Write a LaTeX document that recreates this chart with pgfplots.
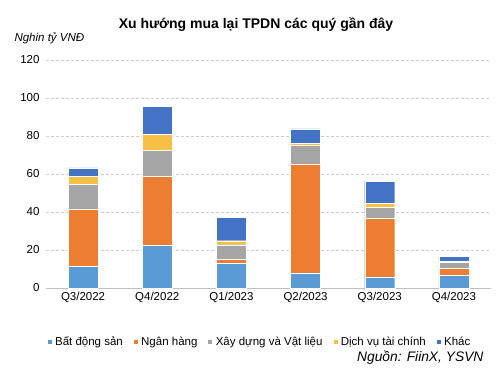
\documentclass[border=0pt]{standalone}
\usepackage{pgfplots}
\pgfplotsset{compat=1.18}
\usepackage{fontspec}
\setmainfont{Liberation Sans}
\definecolor{cBDS}{HTML}{5B9BD5}
\definecolor{cNH}{HTML}{ED7D31}
\definecolor{cXD}{HTML}{A5A5A5}
\definecolor{cDV}{HTML}{F6BF45}
\definecolor{cKH}{HTML}{4472C4}
\begin{document}
\begin{tikzpicture}[x=1pt,y=1pt]
\path[use as bounding box] (0,0) rectangle (498,373);
\begin{axis}[
  at={(46pt,85pt)}, anchor=south west,
  scale only axis, width=445pt, height=228pt,
  ybar stacked, bar width=30pt,
  xmin=-0.5, xmax=5.5, ymin=0, ymax=120,
  ytick={0,20,...,120},
  xtick={0,...,5},
  xticklabels={Q3/2022,Q4/2022,Q1/2023,Q2/2023,Q3/2023,Q4/2023},
  axis line style={draw=none},
  axis x line*=bottom,
  x axis line style={draw=gray!50, line width=0.8pt},
  y axis line style={draw=none},
  major tick length=0pt,
  ymajorgrids, grid style={densely dashed, gray!40, line width=0.5pt},
  tick label style={font=\fontsize{11.5}{13}\selectfont},
  /pgf/number format/assume math mode=true,
  yticklabel style={xshift=-3pt},
  xticklabel style={yshift=-1pt},
  legend columns=5,
  legend style={at={(0.48,-0.237)}, anchor=center, draw=none, fill=none,
    font=\fontsize{11.5}{13}\selectfont, column sep=8pt,
    /tikz/every odd column/.append style={column sep=1pt}},
  legend image code/.code={\fill[#1] (0pt,-2.5pt) rectangle (5pt,2.5pt);},
]
\addplot[fill=cBDS, draw=white, line width=0.3pt] coordinates {(0,11.4) (1,22.6) (2,13.2) (3,7.9) (4,5.8) (5,6.6)};
\addplot[fill=cNH, draw=white, line width=0.3pt] coordinates {(0,30.3) (1,36.1) (2,1.9) (3,57.4) (4,30.8) (5,3.9)};
\addplot[fill=cXD, draw=white, line width=0.3pt] coordinates {(0,12.8) (1,13.9) (2,7.7) (3,9.8) (4,5.7) (5,3.0)};
\addplot[fill=cDV, draw=white, line width=0.3pt] coordinates {(0,4.2) (1,8.4) (2,2.1) (3,1.2) (4,2.2) (5,0.7)};
\addplot[fill=cKH, draw=white, line width=0.3pt] coordinates {(0,4.5) (1,14.6) (2,12.3) (3,7.5) (4,11.8) (5,2.4)};
\legend{Bất động sản, Ngân hàng, Xây dựng và Vật liệu, Dịch vụ tài chính, Khác}
\end{axis}
\node[font=\bfseries\fontsize{14}{16}\selectfont] at (256,348) {Xu hướng mua lại TPDN các quý gần đây};
\node[anchor=west, font=\itshape\fontsize{11.5}{13}\selectfont] at (11,335) {Nghin tỷ VNĐ};
\node[anchor=east, font=\itshape\fontsize{13.8}{16}\selectfont] at (487,15) {Nguồn: FiinX, YSVN};
\end{tikzpicture}
\end{document}
